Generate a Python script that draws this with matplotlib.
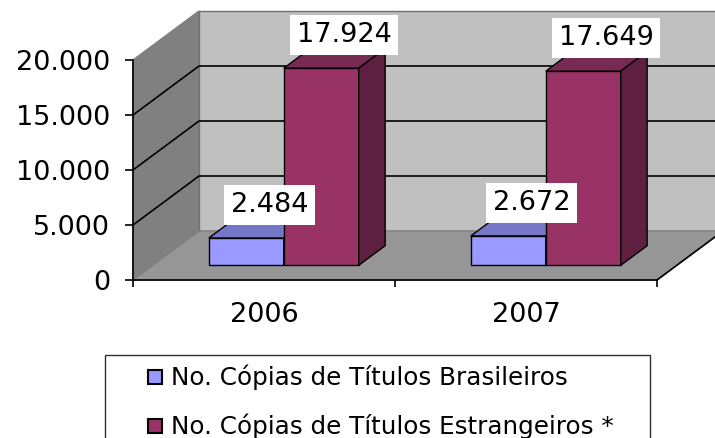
import matplotlib
matplotlib.use("Agg")
import matplotlib.pyplot as plt
from matplotlib.patches import Polygon, Rectangle
from matplotlib.lines import Line2D

years = ["2006", "2007"]
brasileiros = [2484, 2672]
estrangeiros = [17924, 17649]
series_labels = ["No. Cópias de Títulos Brasileiros",
                 "No. Cópias de Títulos Estrangeiros *"]
y_ticks = [0, 5000, 10000, 15000, 20000]

# colours: front, top, side
blue = ["#9999FF", "#7777C8", "#6060A8"]
red = ["#993366", "#772A52", "#5F1F41"]

# 3d look (excel style)
DX = 66 / 262.0
DY = 49 * 20000 / 220.0
d0, d1 = 0.3, 0.7
bar_w = 0.286


def proj(x, y, d):
    return (x + d * DX, y + d * DY)


def poly(ax, pts, fc, ec="black", lw=1.0, z=3):
    ax.add_patch(Polygon(pts, closed=True, facecolor=fc, edgecolor=ec,
                         linewidth=lw, clip_on=False, zorder=z))


def bar3d(ax, x0, x1, h, cols):
    poly(ax, [proj(x0, 0, d0), proj(x1, 0, d0), proj(x1, h, d0), proj(x0, h, d0)], cols[0])
    poly(ax, [proj(x0, h, d0), proj(x1, h, d0), proj(x1, h, d1), proj(x0, h, d1)], cols[1])
    poly(ax, [proj(x1, 0, d0), proj(x1, 0, d1), proj(x1, h, d1), proj(x1, h, d0)], cols[2])


def fmt(v):
    return "{:,}".format(v).replace(",", ".")


plt.rcParams["font.family"] = ["DejaVu Sans"]
fs = 19.5
fs_leg = 17.7

fig = plt.figure(figsize=(7.15, 4.38), dpi=100)
ax = fig.add_axes([133 / 715, 158 / 438, 524 / 715, 220 / 438])
ax.patch.set_visible(False)
ax.set_xlim(0, len(years))
ax.set_ylim(0, y_ticks[-1])

ymax = y_ticks[-1]
nx = len(years)

# walls and floor
poly(ax, [proj(0, 0, 0), proj(0, ymax, 0), proj(0, ymax, 1), proj(0, 0, 1)], "#808080", ec="#808080", z=0)
poly(ax, [proj(0, 0, 1), proj(nx, 0, 1), proj(nx, ymax, 1), proj(0, ymax, 1)], "#C0C0C0", ec="#707070", z=0)
poly(ax, [proj(0, 0, 0), proj(nx, 0, 0), proj(nx, 0, 1), proj(0, 0, 1)], "#969696", ec="#808080", z=0.5)
ax.plot(*zip(proj(nx, 0, 0), proj(nx, 0, 1)), color="black", lw=1.2, clip_on=False, zorder=1)

for v in y_ticks[1:-1]:
    ax.plot(*zip(proj(0, v, 0), proj(0, v, 1), proj(nx, v, 1)), color="black",
            lw=1.2, clip_on=False, zorder=1)

# bars
for i in range(nx):
    c = i + 0.5
    bar3d(ax, c - bar_w, c, brasileiros[i], blue)
    bar3d(ax, c, c + bar_w, estrangeiros[i], red)
    for xc, v in [(c - bar_w / 2, brasileiros[i]), (c + bar_w / 2, estrangeiros[i])]:
        ax.annotate(fmt(v), xy=proj(xc, v, d0), xytext=(23, 33),
                    textcoords="offset pixels", ha="center", va="center",
                    fontsize=fs, zorder=5,
                    bbox=dict(boxstyle="square,pad=0.25", fc="white", ec="none"))

# axes
for s in ["top", "right"]:
    ax.spines[s].set_visible(False)
ax.spines["left"].set_linewidth(1.2)
ax.spines["bottom"].set_linewidth(1.2)
ax.set_yticks(y_ticks)
ax.set_yticklabels([fmt(v) for v in y_ticks])
ax.tick_params(axis="y", direction="out", length=6, width=1.2, pad=10.5, labelsize=fs)
ax.set_xticks(range(nx + 1))
ax.set_xticklabels([])
ax.tick_params(axis="x", which="major", direction="out", length=5, width=1.2)
ax.set_xticks([i + 0.5 for i in range(nx)], minor=True)
ax.set_xticklabels(years, minor=True)
ax.tick_params(axis="x", which="minor", length=0, pad=16, labelsize=fs)

# legend: box drawn separately, entries without frame
fig.patches.append(Rectangle((105 / 715, -0.1), 545 / 715, 83 / 438 + 0.1,
                             transform=fig.transFigure, fill=False,
                             edgecolor="#303030", linewidth=1.0))
handles = [Line2D([], [], marker="s", ls="none", markersize=9.5, markerfacecolor=blue[0],
                  markeredgecolor="black", markeredgewidth=1.5),
           Line2D([], [], marker="s", ls="none", markersize=9.5, markerfacecolor=red[0],
                  markeredgecolor="black", markeredgewidth=1.5)]
fig.legend(handles, series_labels, loc="upper left",
           bbox_to_anchor=(141 / 715, 73 / 438), fontsize=fs_leg, frameon=False,
           borderpad=0, handlelength=1.13, handletextpad=0.1, labelspacing=0.95,
           borderaxespad=0)

fig.savefig("out.png", dpi=100)
